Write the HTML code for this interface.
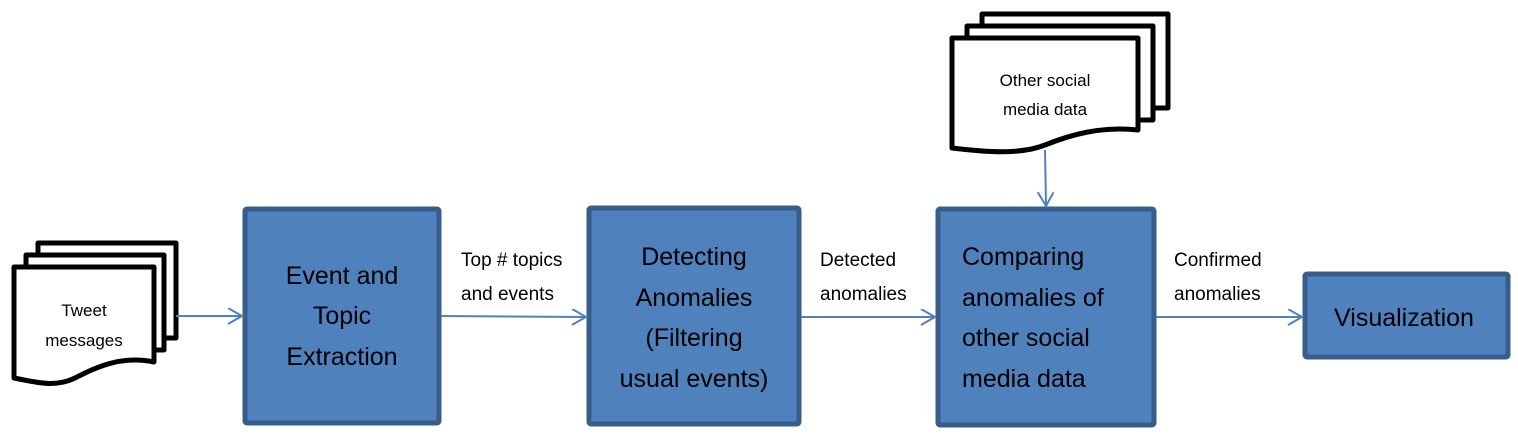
<!DOCTYPE html>
<html><head><style>
html,body{margin:0;padding:0;background:#fff;}
svg{display:block;}
text{font-family:"Liberation Sans",sans-serif;fill:#000;}
</style></head><body>
<svg width="1518" height="438" viewBox="0 0 1518 438" xmlns="http://www.w3.org/2000/svg">
<defs>
<marker id="ah" markerWidth="20" markerHeight="20" refX="16" refY="8" orient="auto" markerUnits="userSpaceOnUse">
<path d="M2,0 L16,8 L2,16" fill="none" stroke="#4f81bd" stroke-width="2"/>
</marker>
</defs>
<g fill="#fff" stroke="#000" stroke-width="5" stroke-linejoin="round">
<rect x="38" y="243" width="138" height="95"/>
<rect x="26" y="255" width="138" height="95"/>
<path d="M14,267 L154,267 L154,362 C120,355 95,368 75,378 C55,388 35,382 14,378 Z"/>
<rect x="982" y="14" width="186" height="94"/>
<rect x="967" y="26" width="186" height="94"/>
<path d="M952,38 L1138,38 L1138,130 C1100,126 1070,135 1045,145 C1020,155 985,152 952,148 Z"/>
</g>
<text x="84" y="316" font-size="17" text-anchor="middle">Tweet</text>
<text x="84" y="346" font-size="17" text-anchor="middle">messages</text>
<text x="1045" y="86" font-size="17" text-anchor="middle">Other social</text>
<text x="1045" y="115" font-size="17" text-anchor="middle">media data</text>
<g fill="#4f81bd" stroke="#385d8a" stroke-width="5">
<rect x="245" y="209" width="194" height="214" rx="2"/>
<rect x="589" y="208" width="210" height="216" rx="2"/>
<rect x="938" y="209" width="216" height="216" rx="2"/>
<rect x="1305" y="274" width="203" height="83" rx="2"/>
</g>
<g font-size="25" text-anchor="middle">
<text x="342" y="284">Event and</text>
<text x="342" y="324">Topic</text>
<text x="342" y="365">Extraction</text>
<text x="694" y="265">Detecting</text>
<text x="694" y="306">Anomalies</text>
<text x="694" y="346">(Filtering</text>
<text x="694" y="387">usual events)</text>
<text x="1404" y="326">Visualization</text>
</g>
<g font-size="25">
<text x="962" y="265">Comparing</text>
<text x="962" y="306">anomalies of</text>
<text x="962" y="346">other social</text>
<text x="962" y="387">media data</text>
</g>
<g stroke="#4f81bd" stroke-width="2" fill="none">
<line x1="176" y1="316" x2="242" y2="316" marker-end="url(#ah)"/>
<line x1="441" y1="316" x2="586" y2="317" marker-end="url(#ah)"/>
<line x1="801" y1="317" x2="935" y2="317" marker-end="url(#ah)"/>
<line x1="1156" y1="317" x2="1302" y2="317" marker-end="url(#ah)"/>
<line x1="1045" y1="150" x2="1046" y2="206" marker-end="url(#ah)"/>
</g>
<g font-size="19">
<text x="461" y="266">Top # topics</text>
<text x="461" y="300">and events</text>
<text x="820" y="266">Detected</text>
<text x="820" y="300">anomalies</text>
<text x="1174" y="266">Confirmed</text>
<text x="1174" y="300">anomalies</text>
</g>
</svg>
</body></html>
